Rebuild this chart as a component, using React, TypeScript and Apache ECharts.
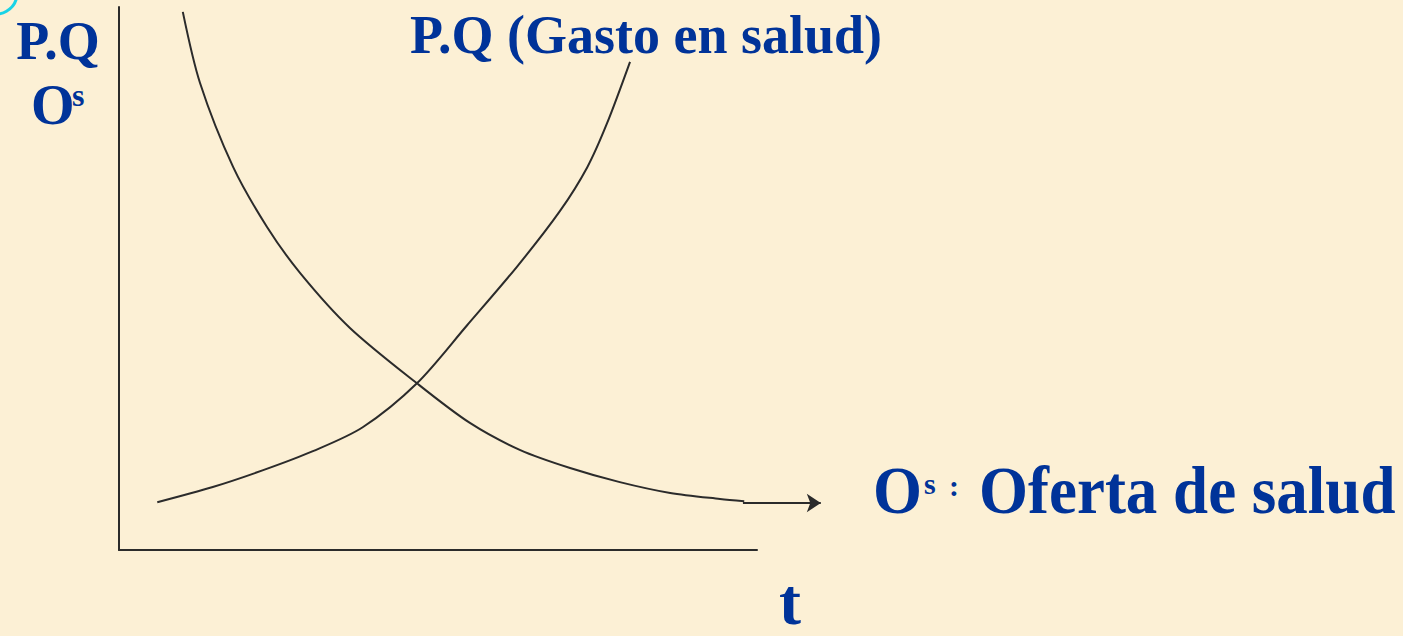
import React, { useEffect, useRef } from "react";
import * as echarts from "echarts";

// Oferta de salud (decreasing curve), t on a 0–100 scale
const ofertaT = [10.0, 12.7, 17.9, 23.2, 28.4, 36.2, 46.7, 55.0, 62.9, 70.7, 78.5, 86.4, 94.2, 98.0];
const ofertaV = [99.1, 86.0, 70.5, 59.5, 51.0, 40.9, 30.7, 23.4, 18.4, 15.1, 12.5, 10.5, 9.4, 9.0];

// P.Q (Gasto en salud) (increasing curve)
const gastoT = [6.0, 14.7, 22.6, 30.4, 38.2, 46.7, 54.5, 62.4, 69.1, 73.4, 76.5, 80.1];
const gastoV = [8.8, 11.6, 14.7, 18.2, 22.6, 30.7, 41.3, 52.2, 62.4, 70.5, 78.6, 89.9];

// Arrow continuing the supply curve
const arrowT = [97.8, 110.0];
const arrowV = [8.66, 8.66];

const BLUE = "#003399";
const INK = "#2b2b2b";
const SERIF = "'Liberation Serif', 'Times New Roman', serif";

export default function App() {
  const ref = useRef<HTMLDivElement>(null);

  useEffect(() => {
    if (!ref.current) return;
    const chart = echarts.init(ref.current, null, { renderer: "svg" });

    const txt = (text: string, x: number, y: number, size: number, align = "left", scaleY = 1) => ({
      type: "text",
      x,
      y,
      scaleY,
      style: {
        text,
        x: 0,
        y: 0,
        fill: BLUE,
        font: `bold ${size}px ${SERIF}`,
        textAlign: align,
        textVerticalAlign: "middle",
      },
    });

    chart.setOption({
      animation: false,
      backgroundColor: "#fcf0d5",
      grid: { left: 119, top: 7, right: 646, bottom: 86 },
      xAxis: {
        type: "value",
        min: 0,
        max: 100,
        axisLine: { show: true, lineStyle: { color: INK, width: 2 } },
        axisTick: { show: false },
        axisLabel: { show: false },
        splitLine: { show: false },
      },
      yAxis: {
        type: "value",
        min: 0,
        max: 100,
        axisLine: { show: true, lineStyle: { color: INK, width: 2 } },
        axisTick: { show: false },
        axisLabel: { show: false },
        splitLine: { show: false },
      },
      series: [
        {
          name: "Oferta de salud",
          type: "line",
          smooth: 0.3,
          showSymbol: false,
          clip: false,
          lineStyle: { color: INK, width: 2 },
          data: ofertaT.map((t, i) => [t, ofertaV[i]]),
        },
        {
          name: "Gasto en salud",
          type: "line",
          smooth: 0.3,
          showSymbol: false,
          clip: false,
          lineStyle: { color: INK, width: 2 },
          data: gastoT.map((t, i) => [t, gastoV[i]]),
        },
        {
          type: "lines",
          coordinateSystem: "cartesian2d",
          clip: false,
          symbol: ["none", "arrow"],
          symbolSize: 14,
          lineStyle: { color: INK, width: 2, opacity: 1 },
          data: [{ coords: arrowT.map((t, i) => [t, arrowV[i]]) }],
        },
      ],
      graphic: [
        {
          type: "circle",
          shape: { cx: -4, cy: -7, r: 21 },
          style: { fill: "none", stroke: "#19d3e6", lineWidth: 3 },
        },
        txt("P.Q", 58, 41, 54, "center"),
        txt("O", 31, 105, 56),
        txt("s", 72, 95, 32),
        txt("P.Q (Gasto en salud)", 410, 35, 54),
        txt("O", 873, 490, 63, "left", 1.07),
        txt("s", 924, 483, 30),
        txt(":", 949, 485, 30),
        txt("Oferta de salud", 979, 490, 63, "left", 1.07),
        txt("t", 790, 601, 66, "center"),
      ],
    });

    return () => chart.dispose();
  }, []);

  return (
    <div
      ref={ref}
      style={{ position: "absolute", left: 0, top: 0, width: 1403, height: 636 }}
    />
  );
}
